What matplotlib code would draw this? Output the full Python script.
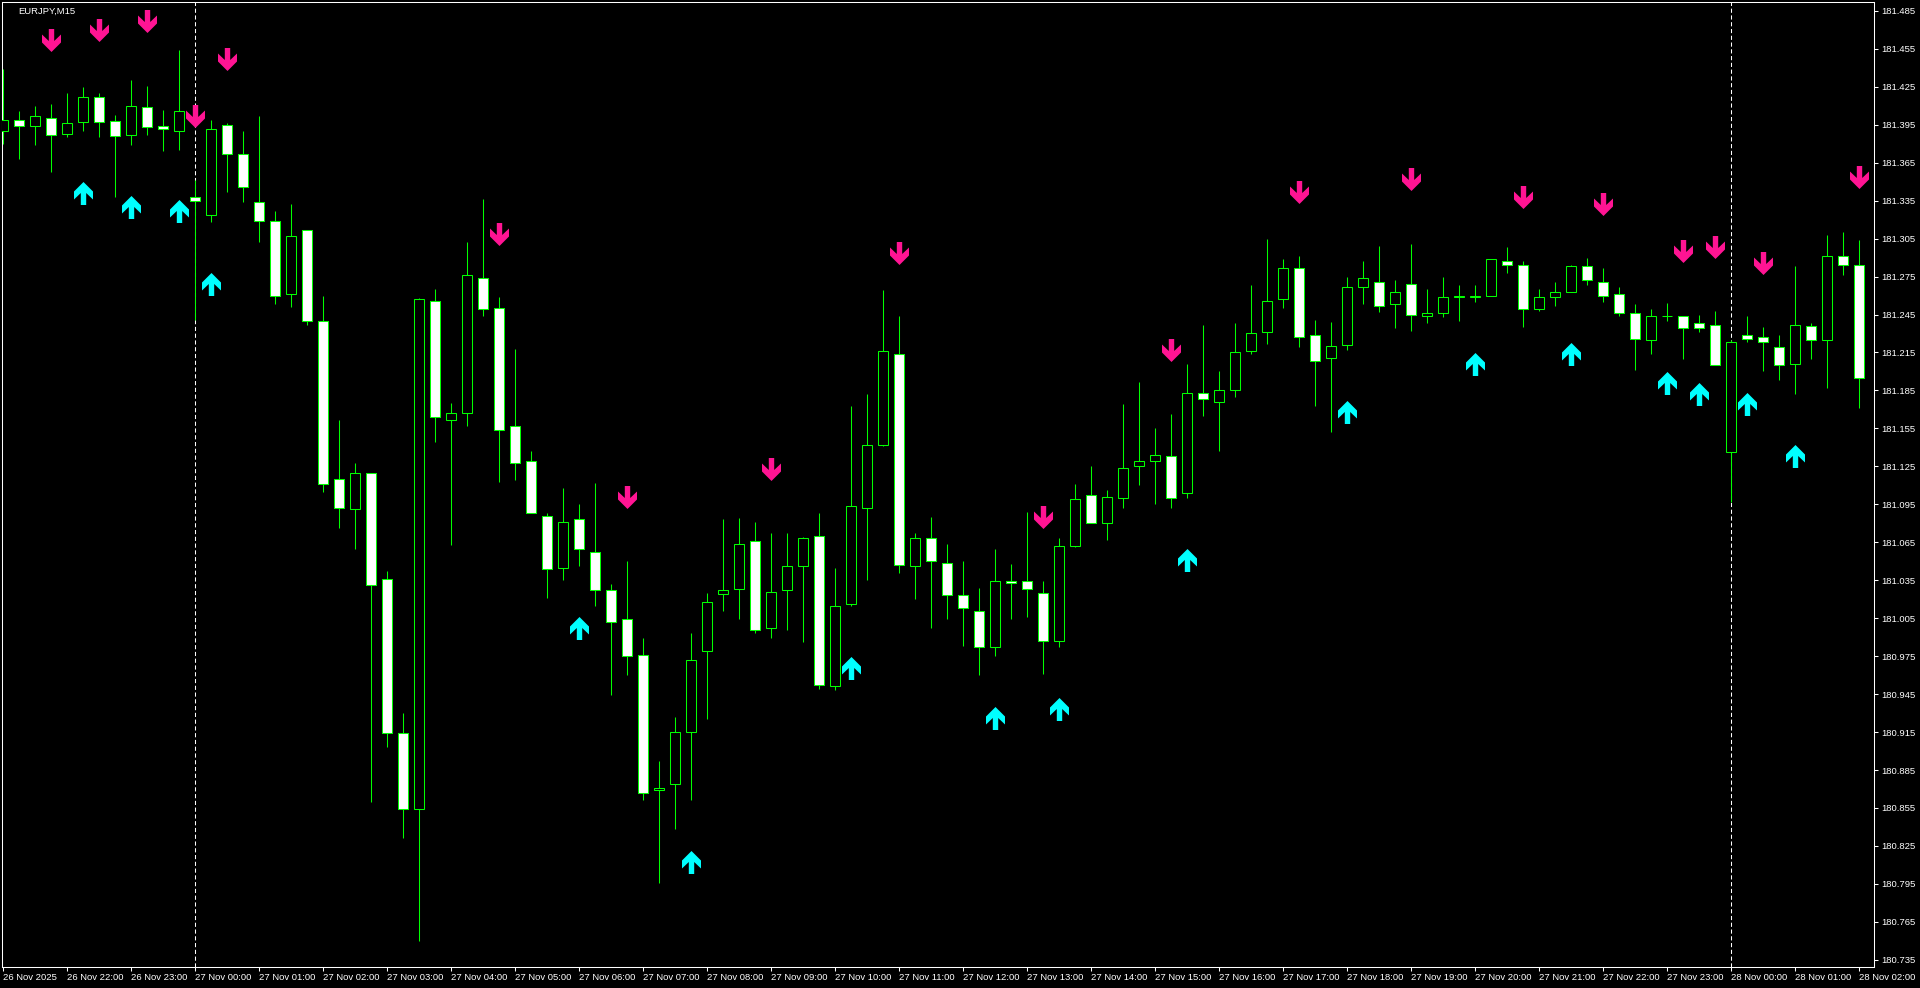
import matplotlib
matplotlib.use("Agg")
import matplotlib.pyplot as plt
from matplotlib.path import Path
import numpy as np

plt.rcParams['font.family'] = ['Liberation Sans', 'DejaVu Sans']

# ---------------- data (EURJPY M15, 26 Nov 21:00 -> 28 Nov 02:00) ----------------
opens = [181.390, 181.399, 181.394, 181.400, 181.388, 181.397, 181.417, 181.398, 181.387, 181.409,
         181.394, 181.390, 181.338, 181.324, 181.395, 181.372, 181.334, 181.319, 181.261, 181.312,
         181.240, 181.115, 181.091, 181.120, 181.036, 180.914, 180.854, 181.256, 181.162, 181.167,
         181.274, 181.250, 181.157, 181.129, 181.086, 181.045, 181.083, 181.057, 181.027, 181.004,
         180.976, 180.869, 180.874, 180.915, 180.979, 181.024, 181.028, 181.066, 180.997, 181.027,
         181.046, 181.070, 180.951, 181.016, 181.092, 181.142, 181.214, 181.046, 181.068, 181.049,
         181.023, 181.011, 180.982, 181.034, 181.034, 181.025, 180.987, 181.062, 181.102, 181.080,
         181.100, 181.125, 181.129, 181.133, 181.104, 181.183, 181.176, 181.185, 181.216, 181.231,
         181.257, 181.282, 181.229, 181.211, 181.221, 181.267, 181.271, 181.253, 181.269, 181.244,
         181.246, 181.259, 181.259, 181.260, 181.287, 181.284, 181.249, 181.259, 181.263, 181.283,
         181.271, 181.261, 181.246, 181.225, 181.244, 181.244, 181.238, 181.237, 181.136, 181.229,
         181.227, 181.219, 181.206, 181.236, 181.225, 181.291, 181.284]

highs = [181.439, 181.406, 181.410, 181.411, 181.420, 181.425, 181.420, 181.403, 181.430, 181.426,
         181.407, 181.454, 181.351, 181.399, 181.396, 181.390, 181.402, 181.327, 181.332, 181.312,
         181.260, 181.162, 181.128, 181.120, 181.042, 180.930, 181.258, 181.265, 181.175, 181.302,
         181.336, 181.259, 181.218, 181.137, 181.088, 181.108, 181.095, 181.112, 181.032, 181.050,
         180.989, 180.892, 180.927, 180.993, 181.025, 181.083, 181.084, 181.081, 181.072, 181.072,
         181.069, 181.088, 181.045, 181.173, 181.182, 181.264, 181.244, 181.072, 181.085, 181.064,
         181.050, 181.029, 181.060, 181.048, 181.089, 181.034, 181.068, 181.111, 181.125, 181.106,
         181.174, 181.192, 181.155, 181.166, 181.206, 181.237, 181.200, 181.238, 181.268, 181.305,
         181.289, 181.291, 181.241, 181.239, 181.275, 181.287, 181.299, 181.272, 181.301, 181.265,
         181.275, 181.268, 181.268, 181.289, 181.298, 181.287, 181.265, 181.271, 181.284, 181.290,
         181.282, 181.267, 181.253, 181.249, 181.254, 181.244, 181.245, 181.248, 181.225, 181.244,
         181.235, 181.229, 181.283, 181.238, 181.308, 181.310, 181.304]

lows = [181.380, 181.368, 181.379, 181.358, 181.385, 181.390, 181.385, 181.338, 181.379, 181.387,
        181.374, 181.375, 181.241, 181.318, 181.342, 181.334, 181.302, 181.253, 181.251, 181.237,
        181.105, 181.076, 181.060, 180.860, 180.903, 180.831, 180.750, 181.144, 181.063, 181.157,
        181.244, 181.113, 181.114, 181.088, 181.021, 181.035, 181.046, 181.015, 180.944, 180.960,
        180.861, 180.796, 180.838, 180.861, 180.925, 181.011, 181.004, 180.993, 180.989, 180.996,
        180.986, 180.949, 180.948, 181.015, 181.035, 181.141, 181.041, 181.020, 180.997, 181.004,
        180.983, 180.960, 180.975, 181.004, 181.006, 180.961, 180.982, 181.061, 181.080, 181.067,
        181.092, 181.110, 181.095, 181.092, 181.100, 181.165, 181.137, 181.180, 181.214, 181.222,
        181.250, 181.219, 181.173, 181.152, 181.217, 181.253, 181.247, 181.234, 181.232, 181.238,
        181.243, 181.240, 181.255, 181.260, 181.278, 181.235, 181.248, 181.252, 181.263, 181.268,
        181.255, 181.244, 181.201, 181.214, 181.240, 181.210, 181.231, 181.205, 181.097, 181.223,
        181.200, 181.193, 181.182, 181.210, 181.187, 181.276, 181.171]

closes = [181.399, 181.394, 181.402, 181.387, 181.396, 181.417, 181.397, 181.386, 181.410, 181.393,
          181.392, 181.406, 181.335, 181.392, 181.372, 181.346, 181.319, 181.260, 181.307, 181.240,
          181.111, 181.092, 181.120, 181.031, 180.914, 180.854, 181.257, 181.164, 181.167, 181.276,
          181.249, 181.154, 181.128, 181.088, 181.044, 181.081, 181.060, 181.027, 181.002, 180.975,
          180.867, 180.871, 180.915, 180.972, 181.018, 181.027, 181.064, 180.996, 181.026, 181.046,
          181.068, 180.952, 181.015, 181.094, 181.142, 181.216, 181.047, 181.068, 181.050, 181.023,
          181.013, 180.982, 181.034, 181.033, 181.028, 180.987, 181.062, 181.099, 181.080, 181.101,
          181.124, 181.129, 181.134, 181.100, 181.183, 181.178, 181.185, 181.215, 181.230, 181.256,
          181.282, 181.227, 181.208, 181.220, 181.267, 181.274, 181.252, 181.263, 181.245, 181.246,
          181.259, 181.260, 181.260, 181.289, 181.284, 181.249, 181.259, 181.263, 181.283, 181.272,
          181.260, 181.246, 181.226, 181.244, 181.244, 181.234, 181.234, 181.205, 181.223, 181.226,
          181.223, 181.205, 181.237, 181.225, 181.291, 181.284, 181.195]

# signal arrows (bar index, price level of arrow centre)
sell_idx = [3, 6, 9, 12, 14, 31, 39, 48, 56, 65, 73, 81, 88, 95, 100, 105, 107, 110, 116]
sell_price = [181.462, 181.470, 181.477, 181.402, 181.447, 181.309, 181.101, 181.123, 181.294,
              181.085, 181.217, 181.342, 181.352, 181.338, 181.332, 181.295, 181.298, 181.286, 181.354]
buy_idx = [5, 8, 11, 13, 36, 43, 53, 62, 66, 74, 84, 92, 98, 104, 106, 109, 112]
buy_price = [181.341, 181.330, 181.327, 181.269, 180.997, 180.812, 180.966, 180.926, 180.933,
             181.051, 181.168, 181.206, 181.214, 181.191, 181.182, 181.174, 181.133]

# period separators (bar index of day start)
day_starts = [12, 108]

# axis labels
time_tick_idx = list(range(0, 117, 4))
time_labels = ["26 Nov 2025", "26 Nov 22:00", "26 Nov 23:00",
               "27 Nov 00:00", "27 Nov 01:00", "27 Nov 02:00", "27 Nov 03:00", "27 Nov 04:00",
               "27 Nov 05:00", "27 Nov 06:00", "27 Nov 07:00", "27 Nov 08:00", "27 Nov 09:00",
               "27 Nov 10:00", "27 Nov 11:00", "27 Nov 12:00", "27 Nov 13:00", "27 Nov 14:00",
               "27 Nov 15:00", "27 Nov 16:00", "27 Nov 17:00", "27 Nov 18:00", "27 Nov 19:00",
               "27 Nov 20:00", "27 Nov 21:00", "27 Nov 22:00", "27 Nov 23:00",
               "28 Nov 00:00", "28 Nov 01:00", "28 Nov 02:00"]
price_labels = ["181.485", "181.455", "181.425", "181.395", "181.365", "181.335", "181.305",
                "181.275", "181.245", "181.215", "181.185", "181.155", "181.125", "181.095",
                "181.065", "181.035", "181.005", "180.975", "180.945", "180.915", "180.885",
                "180.855", "180.825", "180.795", "180.765", "180.735"]
title = "EURJPY,M15"

# ---------------- drawing ----------------
W, H = 1920, 988
fig = plt.figure(figsize=(W / 100, H / 100), dpi=100, facecolor='black')
ax = fig.add_axes([2 / W, 1 - 967 / H, 1872 / W, 965 / H], facecolor='black')

o = np.array(opens); h = np.array(highs); l = np.array(lows); c = np.array(closes)
x = np.arange(len(o))
green = '#00FF00'

ax.vlines(x, l, h, colors=green, linewidth=0.75, zorder=2)
fills = np.where(c >= o, 'black', 'white')
ax.bar(x, c - o, bottom=o, width=0.625, color=fills, edgecolor=green,
       linewidth=0.75, zorder=3)

for d in day_starts:
    ax.axvline(d, color='white', linewidth=0.75, linestyle=(0, (4, 2.5)), zorder=1)

# arrow markers
dn = [(-2.7, 11.5), (2.7, 11.5), (2.7, -0.5), (9.5, 6.0), (9.5, -2.0), (0.0, -11.5),
      (-9.5, -2.0), (-9.5, 6.0), (-2.7, -0.5), (-2.7, 11.5)]
down_marker = Path(dn, closed=True)
up_marker = Path([(vx, -vy) for vx, vy in dn], closed=True)
msize = (23 * 0.72) ** 2
ax.scatter(sell_idx, sell_price, marker=down_marker, s=msize, c='#FF1493',
           linewidths=0, zorder=5)
ax.scatter(buy_idx, buy_price, marker=up_marker, s=msize, c='#00FFFF',
           linewidths=0, zorder=5)

ax.set_xlim(-1.3 / 16, (1874 - 3.3) / 16)
ax.set_ylim(180.7293, 181.4920)

for s in ax.spines.values():
    s.set_color('white')
    s.set_linewidth(0.75)

ax.yaxis.tick_right()
ax.set_yticks([float(v) for v in price_labels])
ax.set_yticklabels(price_labels)
ax.set_xticks(time_tick_idx)
ax.set_xticklabels(time_labels)
for lbl in ax.get_xticklabels():
    lbl.set_horizontalalignment('left')
ax.tick_params(axis='y', colors='white', length=3, width=0.75, pad=2,
               labelsize=6.8, direction='out')
ax.tick_params(axis='x', colors='white', length=3, width=0.75, pad=1.5,
               labelsize=6.8, direction='out')

fig.text(18 / W, 1 - 11 / H, title, color='white', fontsize=6.8, ha='left', va='center')

fig.savefig('out.png', dpi=100, facecolor='black')
